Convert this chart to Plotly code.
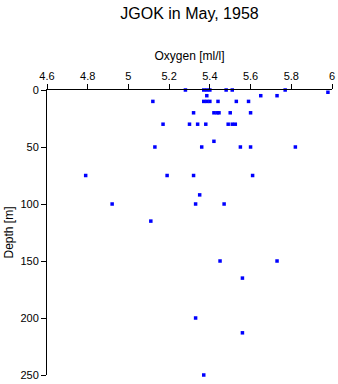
import plotly.graph_objects as go

# Oxygen [ml/l] and depth [m]
oxygen = [5.28, 5.37, 5.385, 5.40, 5.48, 5.51, 5.77,
          5.98,
          5.385, 5.65, 5.73,
          5.12, 5.37, 5.385, 5.40, 5.44, 5.53, 5.59,
          5.32, 5.42, 5.435, 5.445, 5.50, 5.60,
          5.17, 5.30, 5.34, 5.38, 5.49, 5.51, 5.525,
          5.42,
          5.13, 5.36, 5.55, 5.60, 5.82,
          4.79, 5.19, 5.32, 5.61,
          5.35,
          4.92, 5.33, 5.47,
          5.11,
          5.45, 5.73,
          5.56,
          5.33,
          5.56,
          5.37]
depth = [0, 0, 0, 0, 0, 0, 0,
         2,
         5, 5, 5,
         10, 10, 10, 10, 10, 10, 10,
         20, 20, 20, 20, 20, 20,
         30, 30, 30, 30, 30, 30, 30,
         45,
         50, 50, 50, 50, 50,
         75, 75, 75, 75,
         92,
         100, 100, 100,
         115,
         150, 150,
         165,
         200,
         213,
         250]

x_tickvals = [4.6, 4.8, 5.0, 5.2, 5.4, 5.6, 5.8, 6.0]
x_ticktext = ["4.6", "4.8", "5", "5.2", "5.4", "5.6", "5.8", "6"]
y_tickvals = [0, 50, 100, 150, 200, 250]

FONT = "Liberation Sans, Arial, Helvetica, sans-serif"

fig = go.Figure(go.Scatter(
    x=oxygen, y=depth, mode="markers",
    marker=dict(symbol="square", size=3.5, color="#0000ff", line=dict(width=0)),
    hoverinfo="x+y", cliponaxis=False,
))

fig.update_layout(
    width=338, height=384,
    margin=dict(l=47, r=6, t=90, b=9),
    paper_bgcolor="white", plot_bgcolor="white",
    showlegend=False,
    font=dict(family=FONT, size=11, color="black"),
    title=dict(text="JGOK in May, 1958", x=(47 + 332) / 2 / 338, xanchor="center",
               y=1 - 13 / 384, yanchor="middle", yref="container",
               font=dict(family=FONT, size=16, color="black")),
)
fig.update_xaxes(
    side="top", range=[4.6, 6.0], tickvals=x_tickvals, ticktext=x_ticktext,
    automargin=False,
    showgrid=False, zeroline=False, showline=True, linecolor="black", linewidth=1,
    ticks="outside", ticklen=5, tickcolor="black", tickwidth=1,
    title=dict(text="Oxygen [ml/l]", font=dict(family=FONT, size=12), standoff=6),
    tickfont=dict(family=FONT, size=11),
)
fig.update_yaxes(
    range=[250, 0], tickvals=y_tickvals, automargin=False,
    showgrid=False, zeroline=False, showline=True, linecolor="black", linewidth=1,
    ticks="outside", ticklen=5, tickcolor="black", tickwidth=1,
    title=dict(text="Depth [m]", font=dict(family=FONT, size=12), standoff=4),
    tickfont=dict(family=FONT, size=11),
)

fig.write_html("out.html")
